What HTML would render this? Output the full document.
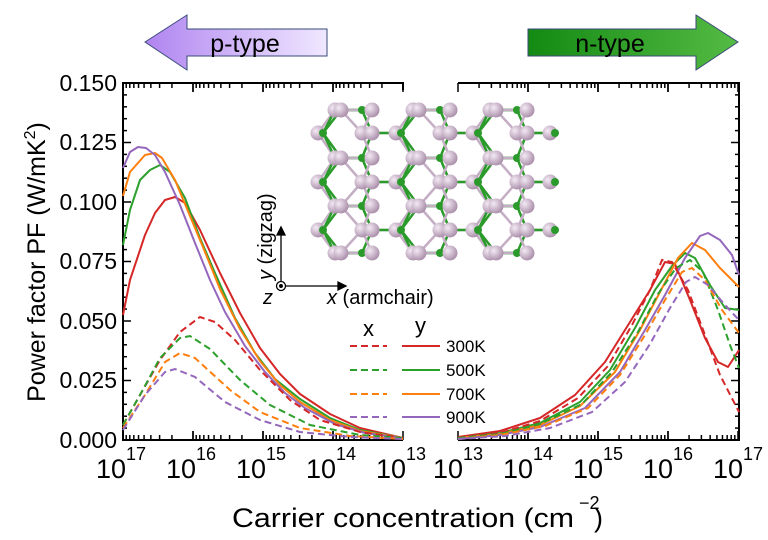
<!DOCTYPE html>
<html><head><meta charset="utf-8"><style>
html,body{margin:0;padding:0;background:#fff}
svg{display:block;font-family:"Liberation Sans",Arial,sans-serif}
</style></head><body>
<svg id="s" width="768" height="540" viewBox="0 0 768 540" xmlns="http://www.w3.org/2000/svg">
<defs>
<linearGradient id="gp" x1="0" x2="1"><stop offset="0" stop-color="#b084f0"/><stop offset="1" stop-color="#f0e8ff"/></linearGradient>
<linearGradient id="gn" x1="0" x2="1"><stop offset="0" stop-color="#138a13"/><stop offset="1" stop-color="#55bb44"/></linearGradient>
<radialGradient id="ga" cx="0.35" cy="0.35" r="0.7"><stop offset="0" stop-color="#f4eaf4"/><stop offset="1" stop-color="#a88ca8"/></radialGradient>
</defs>
<polygon points="145,42 187,15 187,29 327,29 327,56 187,56 187,70" fill="url(#gp)" stroke="#3a4a7a" stroke-width="1"/>
<text x="245" y="52" font-size="25" text-anchor="middle">p-type</text>
<polygon points="528,29 696,29 696,15 738,42 696,70 696,56 528,56" fill="url(#gn)" stroke="#3a4a7a" stroke-width="1"/>
<text x="610" y="52" font-size="25" text-anchor="middle">n-type</text>
<g id="mol"></g>
<g stroke="#000" stroke-width="2" fill="none">
<polyline points="403,90 403,83 123,83 123,440 403,440"/>
<polyline points="458,83 739,83 739,440 458,440"/>
</g>
<g id="ticks" stroke="#000" stroke-width="1.5"></g>
<g font-size="23" text-anchor="end">
<text x="117" y="91">0.150</text><text x="117" y="150">0.125</text><text x="117" y="210">0.100</text>
<text x="117" y="269">0.075</text><text x="117" y="329">0.050</text><text x="117" y="388">0.025</text><text x="117" y="448">0.000</text>
</g>
<g id="xl" font-size="27"></g>
<text transform="translate(45,262) rotate(-90)" font-size="25" text-anchor="middle">Power factor PF (W/mK<tspan font-size="16" dy="-10">2</tspan><tspan dy="10">)</tspan></text>
<text x="232" y="527" font-size="27" textLength="342" lengthAdjust="spacingAndGlyphs">Carrier concentration (cm</text>
<text x="579" y="509" font-size="18">−2</text>
<text x="594" y="527" font-size="27">)</text>
<g stroke="#000" stroke-width="1.3" fill="#000">
<line x1="281" y1="286" x2="281" y2="234"/><polygon points="277,235 285,235 281,227"/>
<line x1="281" y1="286" x2="338" y2="286"/><polygon points="338,282 338,290 346,286"/>
<circle cx="281" cy="286" r="4.5" fill="#fff"/><circle cx="281" cy="286" r="1.3"/>
</g>
<text transform="translate(272,280) rotate(-90)" font-size="20"><tspan font-style="italic">y</tspan> (zigzag)</text>
<text x="263" y="304" font-size="20" font-style="italic">z</text>
<text x="327" y="304" font-size="20"><tspan font-style="italic">x</tspan> (armchair)</text>
<text x="363" y="336" font-size="22">x</text><text x="415" y="333" font-size="22">y</text>
<g stroke-width="2">
<line x1="350" y1="346" x2="387" y2="346" stroke="#d62728" stroke-dasharray="7,4"/><line x1="402" y1="346" x2="440" y2="346" stroke="#d62728"/>
<line x1="350" y1="370" x2="387" y2="370" stroke="#2ca02c" stroke-dasharray="7,4"/><line x1="402" y1="370" x2="440" y2="370" stroke="#2ca02c"/>
<line x1="350" y1="394" x2="387" y2="394" stroke="#ff7f0e" stroke-dasharray="7,4"/><line x1="402" y1="394" x2="440" y2="394" stroke="#ff7f0e"/>
<line x1="350" y1="417" x2="387" y2="417" stroke="#9467bd" stroke-dasharray="7,4"/><line x1="402" y1="417" x2="440" y2="417" stroke="#9467bd"/>
</g>
<g font-size="17"><text x="446" y="352">300K</text><text x="446" y="376">500K</text><text x="446" y="400">700K</text><text x="446" y="423">900K</text></g>
<g fill="none" stroke-width="2" stroke-linejoin="round">
<polyline stroke="#d62728" points="123,315 130,280 145,235 155,213 165,200 175,197 185,203 200,230 220,273 240,313 260,348 280,374 300,394 330,414 360,428 403,438"/>
<polyline stroke="#2ca02c" points="123,245 130,210 140,180 150,170 160,165 170,172 185,198 200,238 215,273 235,318 255,353 275,379 300,399 330,418 360,430 403,438"/>
<polyline stroke="#ff7f0e" points="123,196 130,172 145,155 155,153 162,158 175,180 190,216 205,252 220,289 240,329 260,361 280,385 300,402 330,420 360,431 403,438"/>
<polyline stroke="#9467bd" points="123,168 130,152 138,147 146,148 155,155 165,172 180,205 195,243 210,280 225,312 245,346 265,372 285,393 305,408 335,424 365,433 403,438"/>
</g>
<g fill="none" stroke-width="2" stroke-dasharray="7,4">
<polyline stroke="#d62728" points="123,425 140,395 160,360 180,332 200,317 215,322 235,340 260,370 290,400 320,420 360,432 403,438"/>
<polyline stroke="#2ca02c" points="123,425 140,395 160,358 180,338 190,336 210,349 240,380 270,405 310,425 360,435 403,438"/>
<polyline stroke="#ff7f0e" points="123,428 145,395 165,362 180,353 195,358 230,390 260,412 300,428 350,436 403,439"/>
<polyline stroke="#9467bd" points="123,430 145,395 165,372 175,369 195,377 225,402 260,420 300,432 350,437 403,439"/>
</g>
<g fill="none" stroke-width="2" stroke-linejoin="round">
<polyline stroke="#d62728" points="458,437 500,431 540,418 575,395 605,362 630,322 650,290 665,262 675,264 690,300 705,338 718,362 728,367 739,350"/>
<polyline stroke="#2ca02c" points="458,438 500,433 540,423 580,402 610,370 635,328 655,290 672,266 685,253 695,258 710,285 725,308 739,310"/>
<polyline stroke="#ff7f0e" points="458,438 500,434 540,425 580,406 615,372 640,330 660,292 678,258 692,243 705,250 720,268 739,287"/>
<polyline stroke="#9467bd" points="458,439 500,435 540,427 585,408 620,372 645,330 665,295 685,258 700,236 708,233 720,240 732,255 739,275"/>
</g>
<g fill="none" stroke-width="2" stroke-dasharray="7,4">
<polyline stroke="#d62728" points="458,438 500,433 540,421 578,398 608,366 632,325 650,290 662,260 672,262 688,290 705,335 720,375 739,412"/>
<polyline stroke="#2ca02c" points="458,438 500,434 540,424 582,404 612,372 638,332 658,294 676,268 690,260 703,272 718,310 730,345 739,368"/>
<polyline stroke="#ff7f0e" points="458,439 500,435 545,426 588,408 620,375 645,335 665,300 682,272 692,268 705,280 722,310 739,333"/>
<polyline stroke="#9467bd" points="458,439 505,436 550,428 592,412 625,382 650,344 670,308 686,282 695,277 708,285 725,305 739,320"/>
</g>
</svg>
<script>
var NS="http://www.w3.org/2000/svg";
function el(t,a,p){var e=document.createElementNS(NS,t);for(var k in a)e.setAttribute(k,a[k]);(p||document.getElementById('s')).appendChild(e);return e;}
var tk=document.getElementById('ticks');
function logTicks(x0,dir,ytop,ybot){
 for(var d=0;d<4;d++){for(var m=1;m<=10;m++){var lx=Math.log10(m);
  var px=x0+dir*(d+lx)*70;
  var L=(m==1||m==10)?9:5;
  el('line',{x1:px,y1:ybot,x2:px,y2:ybot-L},tk);el('line',{x1:px,y1:ytop,x2:px,y2:ytop+L},tk);}}
}
logTicks(403,-1,83,440);
logTicks(458,1,83,440);
for(var i=0;i<=30;i++){var y=83+i*357/30;var L=(i%5==0)?8:4;el('line',{x1:123,y1:y,x2:123+L,y2:y},tk);el('line',{x1:739,y1:y,x2:739-L,y2:y},tk);}
var xl=document.getElementById('xl');
function lab(x,e){var t=el('text',{x:x-27,y:478},xl);t.textContent='10';var s=el('text',{x:x+3,y:460,'font-size':18},xl);s.textContent=e;}
[17,16,15,14,13].forEach(function(e,i){lab(123+i*70,e);});
[13,14,15,16,17].forEach(function(e,i){lab(458+i*70+2,e);});
var mol=document.getElementById('mol');var at=[];
var rowsA=[110,158,206,253],rowsB=[133,182,230];
[335,413,490].forEach(function(u){
 rowsA.forEach(function(y){at.push([u,y,0],[u+6,y,0],[u+27,y,1],[u+37,y,0]);});
 rowsB.forEach(function(y){at.push([u-17,y,0],[u-12,y,1],[u+27,y,0],[u+37,y,0]);});
});
rowsB.forEach(function(y){at.push([550,y,0],[555,y,1]);});
for(var i=0;i<at.length;i++)for(var j=i+1;j<at.length;j++){var a=at[i],b=at[j];var dx=Math.abs(a[0]-b[0]),dy=Math.abs(a[1]-b[1]);var d=Math.hypot(dx,dy);
 if(d>12&&d<32&&dx>9){el('line',{x1:a[0],y1:a[1],x2:b[0],y2:b[1],stroke:(a[2]||b[2])?'#2a9a2a':'#c4aec4','stroke-width':2.5},mol);}}
at.forEach(function(a){if(a[2])el('circle',{cx:a[0],cy:a[1],r:4,fill:'#2a9a2a'},mol);else el('circle',{cx:a[0],cy:a[1],r:7.5,fill:'url(#ga)'},mol);});
</script>
</body></html>
